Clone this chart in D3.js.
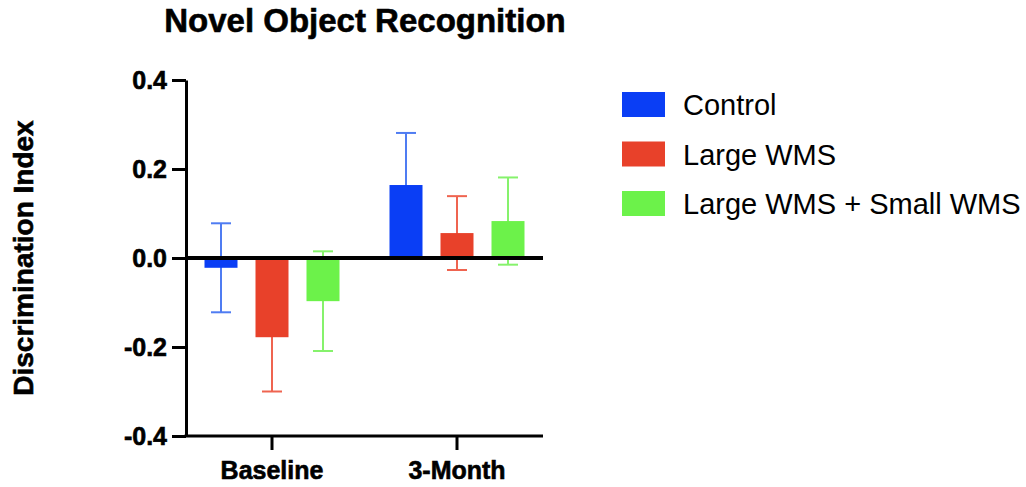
<!DOCTYPE html>
<html>
<head>
<meta charset="utf-8">
<script src="https://cdn.jsdelivr.net/npm/d3@7"></script>
<style>
  html, body { margin: 0; padding: 0; background: #fff; }
  svg { display: block; font-family: "Liberation Sans", Arial, Helvetica, sans-serif; }
  .heavy { stroke: #000; stroke-width: 0.6px; paint-order: stroke; }
</style>
</head>
<body>
<svg id="chart" width="1026" height="487"></svg>
<script>
// Time points on the x axis
const timepoints = ["Baseline", "3-Month"];
// Treatment groups
const groups = ["Control", "Large WMS", "Large WMS + Small WMS"];
// Mean discrimination index per group, one value per time point
const controlMean = [-0.022, 0.164];
const largeMean = [-0.178, 0.056];
const comboMean = [-0.097, 0.083];
// Error (SEM) per group, one value per time point
const controlErr = [0.100, 0.117];
const largeErr = [0.122, 0.083];
const comboErr = [0.112, 0.098];
// Y axis ticks
const yTicks = [0.4, 0.2, 0.0, -0.2, -0.4];

const barColors = ["#0a3ef5", "#e8412a", "#6cf24a"];
const errColors = ["#4f7cf2", "#ef6450", "#86f26c"];

const means = [controlMean, largeMean, comboMean];
const errs = [controlErr, largeErr, comboErr];

const rows = [];
groups.forEach((g, gi) => {
  timepoints.forEach((t, ti) => {
    rows.push({ group: g, gi, time: t, mean: means[gi][ti], err: errs[gi][ti] });
  });
});

const svg = d3.select("#chart");
const axisLeftX = 186, axisRightX = 543;

const y = d3.scaleLinear().domain([-0.4, 0.4]).range([436, 80]);
const x0 = d3.scaleBand().domain(timepoints).range([179.5, 549.5]).padding(0);
const x1 = d3.scaleBand().domain(groups).range([-76.5, 76.5])
  .paddingInner(0.353).paddingOuter(0.1765);

const bw = x1.bandwidth();
const capW = 20;
const cx = d => x0(d.time) + x0.bandwidth() / 2 + x1(d.group) + bw / 2;

// Error bars sit behind the bars
const eb = svg.append("g").attr("class", "errorbars");
rows.forEach(d => {
  const g = eb.append("g").attr("stroke", errColors[d.gi]).attr("stroke-width", 2);
  g.append("line").attr("x1", cx(d)).attr("x2", cx(d))
    .attr("y1", y(d.mean + d.err)).attr("y2", y(d.mean - d.err));
  g.append("line").attr("x1", cx(d) - capW / 2).attr("x2", cx(d) + capW / 2)
    .attr("y1", y(d.mean + d.err)).attr("y2", y(d.mean + d.err));
  g.append("line").attr("x1", cx(d) - capW / 2).attr("x2", cx(d) + capW / 2)
    .attr("y1", y(d.mean - d.err)).attr("y2", y(d.mean - d.err));
});

// Bars
svg.append("g").selectAll("rect").data(rows).join("rect")
  .attr("x", d => cx(d) - bw / 2)
  .attr("width", bw)
  .attr("y", d => y(Math.max(0, d.mean)))
  .attr("height", d => Math.abs(y(d.mean) - y(0)))
  .attr("fill", d => barColors[d.gi]);

// Y axis
const yAxis = svg.append("g")
  .attr("transform", `translate(${axisLeftX},0)`)
  .call(d3.axisLeft(y).tickValues(yTicks).tickFormat(d3.format(".1f")).tickSize(14).tickSizeOuter(0).tickPadding(5));
yAxis.select(".domain").attr("stroke", "#000").attr("stroke-width", 3);
yAxis.selectAll(".tick line").attr("stroke", "#000").attr("stroke-width", 3);
yAxis.selectAll(".tick text")
  .attr("class", "heavy")
  .attr("font-size", 25).attr("font-weight", "bold").attr("fill", "#000")
  .attr("font-family", "'Liberation Sans', Arial, sans-serif")
  .attr("dy", "0.34em")
  .text(d => d < 0 ? "-" + Math.abs(d).toFixed(1) : d.toFixed(1));

// X axis along the bottom
const xAxis = svg.append("g")
  .attr("transform", `translate(0,${y(-0.4)})`)
  .call(d3.axisBottom(x0).tickSize(14).tickSizeOuter(0).tickPadding(11));
xAxis.select(".domain").remove();
xAxis.append("line").attr("x1", axisLeftX - 1.5).attr("x2", axisRightX)
  .attr("stroke", "#000").attr("stroke-width", 3);
xAxis.selectAll(".tick line").attr("stroke", "#000").attr("stroke-width", 3);
xAxis.selectAll(".tick text")
  .attr("class", "heavy")
  .attr("font-size", 25).attr("font-weight", "bold").attr("fill", "#000")
  .attr("font-family", "'Liberation Sans', Arial, sans-serif");

// Zero line over the bars
svg.append("line")
  .attr("x1", axisLeftX).attr("x2", axisRightX)
  .attr("y1", y(0)).attr("y2", y(0))
  .attr("stroke", "#000").attr("stroke-width", 4);

// Title
svg.append("text")
  .attr("class", "heavy")
  .attr("x", 365).attr("y", 32)
  .attr("text-anchor", "middle")
  .attr("font-size", 33).attr("font-weight", "bold")
  .text("Novel Object Recognition");

// Y axis title
svg.append("text")
  .attr("class", "heavy")
  .attr("transform", `translate(33,${258}) rotate(-90)`)
  .attr("text-anchor", "middle")
  .attr("font-size", 28).attr("font-weight", "bold")
  .text("Discrimination Index");

// Legend
const legend = svg.append("g").attr("transform", "translate(622,92)");
groups.forEach((g, i) => {
  const row = legend.append("g").attr("transform", `translate(0,${i * 49.5})`);
  row.append("rect").attr("width", 43).attr("height", 25).attr("fill", barColors[i]);
  row.append("text").attr("x", 61).attr("y", 23)
    .attr("font-size", 29).attr("fill", "#000").text(g);
});
</script>
</body>
</html>
